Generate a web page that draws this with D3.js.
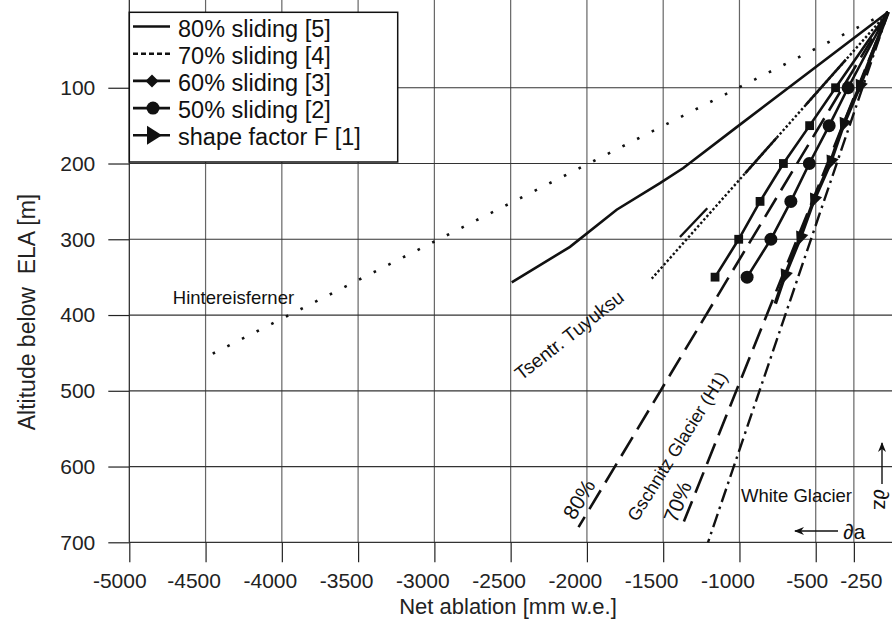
<!DOCTYPE html>
<html>
<head>
<meta charset="utf-8">
<script src="https://cdn.jsdelivr.net/npm/d3@7"></script>
<style>
    body { margin: 0; background: #fff; }
    svg { display: block; font-family: "Liberation Sans", Arial, sans-serif; }
</style>
</head>
<body>
<svg id="chart" width="892" height="624"></svg>
<script>
// values: net ablation [mm w.e.] vs altitude below ELA [m]
let xTicks = [-5000, -4500, -4000, -3500, -3000, -2500, -2000, -1500, -1000, -500, -250];
let yTicks = [100, 200, 300, 400, 500, 600, 700];

let origin = [-25, 0];
let altMarks = [100, 150, 200, 250, 300, 350];
let sliding60 = [-370, -540, -712, -865, -1005, -1160];   // squares
let sliding50 = [-288, -412, -542, -663, -794, -950];     // circles
let shapeF = [-215, -320, -406, -515, -605, -706];        // triangles
let shapeFEnd = [-765, 385];

let sliding80 = [[-25, 0], [-1018, 152], [-1368, 206], [-1521, 226], [-1805, 261], [-2111, 310], [-2493, 357]];
let sliding70 = [[-25, 0], [-1575, 352]];
let sliding70Solid = [[63, 123], [166, 213]];              // altitude ranges drawn solid
let sliding70Piece = [[-1211, 259], [-1390, 297]];
let hintereisferner = [[-25, 0], [-4453, 451]];
let tuyuksu = [[-25, 0], [-2055, 680]];
let gschnitz = [[-25, 0], [-1383, 682]];
let whiteGlacier = [[-25, 0], [-1206, 700]];

let legendRows = ['80% sliding [5]', '70% sliding [4]', '60% sliding [3]', '50% sliding [2]', 'shape factor F [1]'];

let width = 892;
let svg = d3.select('#chart');

let x = d3.scaleLinear().domain([-5000, 0]).range([129.3, 892]);
let y = d3.scaleLinear().domain([0, 700]).range([12, 542.3]);

/** grid **/
svg.append('g').selectAll('line').data(xTicks).enter().append('line')
    .attr('x1', d => x(d)).attr('x2', d => x(d))
    .attr('y1', 0).attr('y2', y(700))
    .attr('stroke', d => d === -5000 ? '#222' : '#666')
    .attr('stroke-width', 1.2);
svg.append('g').selectAll('line').data(yTicks).enter().append('line')
    .attr('x1', x(-5000)).attr('x2', width)
    .attr('y1', d => y(d)).attr('y2', d => y(d))
    .attr('stroke', '#333')
    .attr('stroke-width', 1.2);

/** axes **/
let xAxis = d3.axisBottom(x).tickValues(xTicks).tickSize(20).tickPadding(11).tickFormat(d => String(d));
let yAxis = d3.axisLeft(y).tickValues(yTicks).tickSize(21).tickPadding(13).tickFormat(d => String(d));

let gx = svg.append('g').attr('transform', 'translate(0,' + y(700) + ')').call(xAxis);
let gy = svg.append('g').attr('transform', 'translate(' + x(-5000) + ',0)').call(yAxis);
[gx, gy].forEach(g => {
    g.select('.domain').remove();
    g.selectAll('.tick line').attr('stroke', '#222').attr('stroke-width', 1.2);
    g.selectAll('.tick text').attr('fill', '#222').style('font-size', '21px')
        .style('font-family', '"Liberation Sans", Arial, sans-serif');
});
gx.selectAll('.tick text').attr('dx', d => d === -250 ? 7 : d === -500 ? -9 : d === -5000 ? -10 : -12);

svg.append('text').attr('x', 508).attr('y', 614).attr('text-anchor', 'middle')
    .style('font-size', '22px').attr('fill', '#222').text('Net ablation [mm w.e.]');
svg.append('text').attr('transform', 'translate(35,312) rotate(-90)').attr('text-anchor', 'middle')
    .style('font-size', '23px').style('white-space', 'pre').attr('fill', '#222')
    .text('Altitude below  ELA [m]');

/** lines **/
let line = d3.line().x(d => x(d[0])).y(d => y(d[1]));
let plot = svg.append('g');

function withMarks(vals) {
    return [origin].concat(vals.map((v, i) => [v, altMarks[i]]));
}

function drawLine(data, w, dash) {
    return plot.append('path').datum(data).attr('d', line)
        .attr('fill', 'none').attr('stroke', '#111').attr('stroke-width', w)
        .attr('stroke-dasharray', dash || null);
}

drawLine(hintereisferner, 2.6, '2.6,13.8');
drawLine(sliding80, 2.6);
drawLine(sliding70, 2.4, '2.4,2.2');
sliding70Solid.forEach(r => {
    let a = sliding70[0], b = sliding70[1];
    let seg = r.map(alt => [a[0] + (alt - a[1]) / (b[1] - a[1]) * (b[0] - a[0]), alt]);
    drawLine(seg, 2.6);
});
drawLine(sliding70Piece, 2.4);
drawLine(tuyuksu, 2.6, '22,9');
drawLine(gschnitz, 2.6, '22,9');
drawLine(whiteGlacier, 2.4, '14,5,2.5,5');

drawLine(withMarks(sliding60), 2.6);
drawLine(withMarks(sliding50), 2.6);
drawLine(withMarks(shapeF).concat([shapeFEnd]), 3.6);

// squares
plot.selectAll('.sq').data(sliding60).enter().append('rect')
    .attr('x', d => x(d) - 4.4).attr('y', (d, i) => y(altMarks[i]) - 4.4)
    .attr('width', 8.8).attr('height', 8.8).attr('fill', '#111');
// circles
plot.selectAll('.ci').data(sliding50).enter().append('circle')
    .attr('cx', d => x(d)).attr('cy', (d, i) => y(altMarks[i]))
    .attr('r', 6.5).attr('fill', '#111');
// triangles, pointing along the line
let triPts = withMarks(shapeF).concat([shapeFEnd]);
plot.selectAll('.tr').data(shapeF).enter().append('path')
    .attr('d', 'M8,0L-7,-6.5L-7,6.5Z')
    .attr('fill', '#111')
    .attr('transform', (d, i) => {
        let p0 = triPts[i], p1 = triPts[i + 2];
        let ang = Math.atan2(y(p1[1]) - y(p0[1]), x(p1[0]) - x(p0[0])) * 180 / Math.PI;
        return 'translate(' + x(d) + ',' + y(altMarks[i]) + ') rotate(' + ang + ')';
    });

/** glacier labels **/
function label(txt, px, py, rot, size) {
    svg.append('text').attr('transform', 'translate(' + px + ',' + py + ') rotate(' + rot + ')')
        .style('font-size', size + 'px').attr('fill', '#111').text(txt);
}
label('Hintereisferner', x(-4715), y(386), 0, 18.5);
label('Tsentr. Tuyuksu', x(-2430), y(487), -38, 19);
label('Gschnitz Glacier (H1)', x(-1672), y(674), -58, 18);
label('White Glacier', x(-990), y(647), 0, 18.5);

function lineAngle(data) {
    let a = data[0], b = data[data.length - 1];
    return Math.atan2(y(b[1]) - y(a[1]), x(b[0]) - x(a[0])) * 180 / Math.PI - 180;
}
label('80%', x(-2082), y(672), lineAngle(tuyuksu), 21);
label('70%', x(-1412), y(676), lineAngle(gschnitz), 21);

// gradient arrows
svg.append('defs').append('marker').attr('id', 'ah').attr('viewBox', '0 0 10 10')
    .attr('refX', 9).attr('refY', 5).attr('markerWidth', 10).attr('markerHeight', 10)
    .attr('markerUnits', 'userSpaceOnUse').attr('orient', 'auto')
    .append('path').attr('d', 'M0,1L10,5L0,9L3,5Z').attr('fill', '#111');
svg.append('line').attr('x1', 838).attr('y1', 531).attr('x2', 795).attr('y2', 531)
    .attr('stroke', '#111').attr('stroke-width', 1.4).attr('marker-end', 'url(#ah)');
svg.append('text').attr('x', 843).attr('y', 539).style('font-size', '21px').attr('fill', '#111').text('∂a');
svg.append('line').attr('x1', 882).attr('y1', 484).attr('x2', 882).attr('y2', 443)
    .attr('stroke', '#111').attr('stroke-width', 1.4).attr('marker-end', 'url(#ah)');
svg.append('text').attr('transform', 'translate(874,489) rotate(90)').style('font-size', '21px')
    .attr('fill', '#111').text('∂z');

/** legend **/
let lg = svg.append('g');
lg.append('rect').attr('x', 129.3).attr('y', 12.3).attr('width', 268.4).attr('height', 149.7)
    .attr('fill', '#fff').attr('stroke', '#111').attr('stroke-width', 1.5);
let rows = lg.selectAll('.row').data(legendRows).enter().append('g')
    .attr('transform', (d, i) => 'translate(0,' + (36.5 + i * 27.2) + ')');
rows.append('line').attr('x1', 133).attr('x2', 170).attr('y1', -10).attr('y2', -10)
    .attr('stroke', '#111').attr('stroke-width', 2.6)
    .attr('stroke-dasharray', (d, i) => i === 1 ? '5,3' : null);
rows.append('text').attr('x', 178).attr('y', 0).style('font-size', '23.5px').attr('fill', '#111').text(d => d);
rows.filter((d, i) => i === 2).append('path').attr('d', 'M0,-6.5L6.5,0L0,6.5L-6.5,0Z')
    .attr('transform', 'translate(152,-10)').attr('fill', '#111');
rows.filter((d, i) => i === 3).append('circle').attr('cx', 153).attr('cy', -10).attr('r', 6.5).attr('fill', '#111');
rows.filter((d, i) => i === 4).append('path').attr('d', 'M8,0L-7,-9.5L-7,9.5Z')
    .attr('transform', 'translate(154,-10)').attr('fill', '#111');
</script>
</body>
</html>
